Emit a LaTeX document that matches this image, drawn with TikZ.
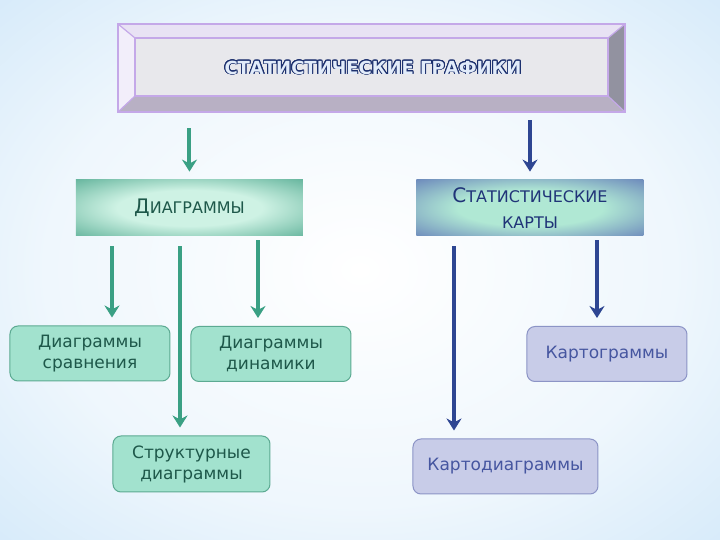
\documentclass[tikz,border=0pt]{standalone}
\usepackage{fontspec}
\setmainfont{DejaVu Sans}
\usepackage{contour}
\usetikzlibrary{arrows.meta}
\contourlength{0.45pt}
\contournumber{20}
\definecolor{hgblau}{RGB}{190,222,246}
\definecolor{gruen}{RGB}{58,160,132}
\definecolor{gruenhell}{RGB}{162,226,206}
\definecolor{gruenrand}{RGB}{92,170,146}
\definecolor{gruentext}{RGB}{30,88,74}
\definecolor{diamitte}{RGB}{206,242,228}
\definecolor{diarand}{RGB}{52,152,124}
\definecolor{blau}{RGB}{46,70,146}
\definecolor{blauhell}{RGB}{200,204,232}
\definecolor{blaurand}{RGB}{140,148,198}
\definecolor{blautext}{RGB}{70,86,160}
\definecolor{karmitte}{RGB}{176,232,212}
\definecolor{karrand}{RGB}{76,92,176}
\definecolor{kartext}{RGB}{32,52,120}
\definecolor{lila}{RGB}{196,168,232}
\definecolor{titelrand}{RGB}{28,48,110}
\definecolor{titelfill}{RGB}{226,236,250}
\definecolor{fobenn}{RGB}{232,226,244}
\definecolor{flinks}{RGB}{242,238,250}
\definecolor{frechts}{RGB}{146,146,160}
\definecolor{funten}{RGB}{184,176,196}
\definecolor{fmitte}{RGB}{232,232,236}
\pgfdeclareradialshading{hgglanz}{\pgfpoint{0bp}{0bp}}{color(0bp)=(white); color(22bp)=(white!75!hgblau); color(50bp)=(hgblau); color(75bp)=(hgblau)}
\pgfdeclareradialshading{diaschatten}{\pgfpoint{0bp}{0bp}}{color(0bp)=(diamitte); color(16bp)=(diamitte); color(46bp)=(diarand); color(75bp)=(diarand)}
\pgfdeclareradialshading{karschatten}{\pgfpoint{0bp}{0bp}}{color(0bp)=(karmitte); color(16bp)=(karmitte); color(46bp)=(karrand); color(75bp)=(karrand)}
\begin{document}
\begin{tikzpicture}[x=0.5pt,y=-0.5pt,
		kopf/.style={minimum width=113.5pt,minimum height=28pt,inner sep=0pt,align=center},
		unterbox/.style={rounded corners=4pt,minimum height=27.5pt,inner sep=0pt,align=center,line width=0.5pt,font=\fontsize{8.5}{10.5}\selectfont},
		gbox/.style={unterbox,fill=gruenhell,draw=gruenrand,text=gruentext},
		bbox/.style={unterbox,fill=blauhell,draw=blaurand,text=blautext},
		garrow/.style={draw=gruen,line width=2pt,-{Stealth[length=6pt,width=7.5pt]},shorten >=4pt},
		barrow/.style={garrow,draw=blau}]
	\useasboundingbox (0,0) rectangle (720,540);
	\shade[shading=hgglanz] (0,0) rectangle (720,540);
	% Kasten oben
	\coordinate (A) at (118,24); \coordinate (B) at (625,24);
	\coordinate (C) at (625,112); \coordinate (D) at (118,112);
	\coordinate (a) at (135,38); \coordinate (b) at (608,38);
	\coordinate (c) at (608,96); \coordinate (d) at (135,96);
	\fill[fobenn] (A) to (B) to (b) to (a) to cycle;
	\fill[flinks] (A) to (a) to (d) to (D) to cycle;
	\fill[frechts] (B) to (C) to (c) to (b) to cycle;
	\fill[funten] (D) to (d) to (c) to (C) to cycle;
	\draw[lila,line width=0.6pt,fill=fmitte] (a) to (b) to (c) to (d) to cycle;
	\draw[lila,line width=0.6pt] (A) to (a) (B) to (b) (C) to (c) (D) to (d);
	\draw[lila,line width=1pt] (A) to (B) to (C) to (D) to cycle;
	\node[minimum width=253.5pt,minimum height=44pt,inner sep=0pt,font=\bfseries\fontsize{9}{11}\selectfont] (titel) at (373,68)
		{\contour{titelrand}{\textcolor{titelfill}{СТАТИСТИЧЕСКИЕ ГРАФИКИ}}};
	% zweite Reihe
	\node[kopf,shading=diaschatten,text=gruentext] (dia) at (189.5,208)
		{{\fontsize{10}{12}\selectfont Д}{\fontsize{8}{12}\selectfont ИАГРАММЫ}};
	\node[kopf,shading=karschatten,text=kartext,font=\fontsize{8}{13}\selectfont] (kar) at (530,208)
		{{\fontsize{10}{13}\selectfont С}ТАТИСТИЧЕСКИЕ\\КАРТЫ};
	% untere Kaesten
	\node[gbox,minimum width=80pt] (vergl) at (90,353.5) {Диаграммы\\сравнения};
	\node[gbox,minimum width=80pt] (dyn) at (271,354) {Диаграммы\\динамики};
	\node[gbox,minimum width=78.5pt,minimum height=28pt] (strukt) at (191.5,464) {Структурные\\диаграммы};
	\node[bbox,minimum width=80pt] (kgr) at (607,354) {Картограммы};
	\node[bbox,minimum width=92.5pt] (kdia) at (505.5,466.5) {Картодиаграммы};
	% Pfeile
	\draw[garrow] ([yshift=-8pt]titel.south -| dia.north) to (dia.north);
	\draw[barrow] ([yshift=-4pt]titel.south -| kar.north) to (kar.north);
	\draw[garrow] ([xshift=-38.75pt,yshift=-5pt]dia.south) coordinate (g1) to (g1 |- vergl.north);
	\draw[garrow] ([xshift=-4.75pt,yshift=-5pt]dia.south) coordinate (g2) to (g2 |- strukt.north);
	\draw[garrow] ([xshift=34.25pt,yshift=-2pt]dia.south) coordinate (g3) to (g3 |- dyn.north);
	\draw[barrow] ([xshift=-38pt,yshift=-5pt]kar.south) coordinate (b1) to (b1 |- kdia.north);
	\draw[barrow] ([xshift=33.5pt,yshift=-2pt]kar.south) coordinate (b2) to (b2 |- kgr.north);
\end{tikzpicture}
\end{document}
